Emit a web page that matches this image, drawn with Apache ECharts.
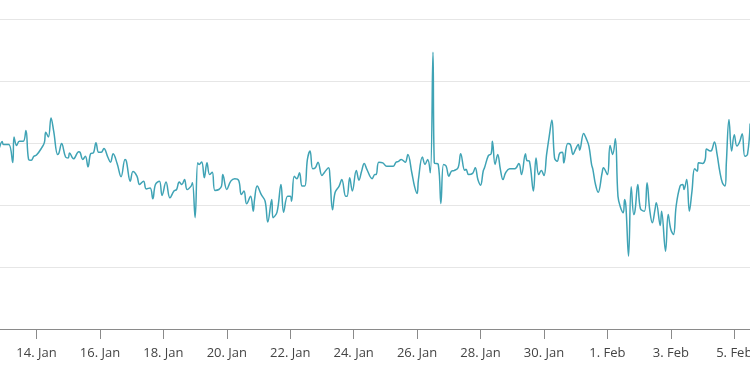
<!DOCTYPE html>
<html>
<head>
<meta charset="utf-8">
<script src="https://cdn.jsdelivr.net/npm/echarts@6/dist/echarts.min.js"></script>
<style>html,body{margin:0;padding:0;background:#fff}#c{width:750px;height:375px}</style>
</head>
<body>
<div id="c"></div>
<script>
// Time of each reading, in hours after 12 Jan 00:00 (UTC)
const startDate = Date.UTC(2023, 0, 12);
const hourOffsets = [
20,22,23,27,30,31,33,35,38,40,42,44,46,48,52,54,55,57,59,61,64,65,67,70,72,73,76,80,81,83,85,87,89,91,93,95,97,99,102,104,106,109,112,115,
116,119,121,124,126,129,131,134,136,138,141,143,146,149,152,154,156,158,160,162,165,166,168,170,171,173,175,177,179,181,183,186,188,189,192,195,198,201,203,205,207,210,
212,213,215,218,221,223,226,227,230,233,235,238,240,241,243,245,247,249,251,253,255,257,259,261,264,266,269,270,272,274,277,279,282,283,285,287,290,292,294,296,298,302,304,
305,307,310,313,318,320,322,324,327,329,332,334,336,337,340,342,344,346,348,349,352,354,356,358,360,362,364,367,369,372,373,375,378,380,382,384,386,387,390,392,393,395,397,399,
401,403,406,410,413,415,418,419,421,424,426,428,430,432,434,436,438,440,442,444,446,447,450,452,454,456,458,459,462,464,466,468,469,471,473,476,477,480,482,484,486,488,490,492,493,
494,496,498,500,501,503,505,508,510,512,514,516,517,520,521,524,526,528,530,532,535,537,538,540,542,544,546,548,549,552,554,555,558,559,561,563,565,567,569,570,572,574,576,578,580,582,584,586,588
];
const values = [
58.5,60.5,59.5,59.5,53.7,61.9,59.2,60.6,60.6,64.0,54.7,54.4,55.7,56.1,58.5,60.2,63.5,61.9,68.1,63.8,56.3,56.8,59.8,55.5,55.2,56.8,54.9,57.2,57.0,54.7,55.7,52.3,56.6,56.8,60.1,57.0,57.0,58.2,55.4,53.8,56.5,53.4,49.1,54.7,
54.1,47.7,50.8,49.3,46.6,47.7,45.2,45.5,42.0,46.6,47.7,43.1,47.4,42.3,44.5,45.0,47.4,46.6,48.2,45.0,46.1,47.2,35.9,53.6,53.1,53.9,48.8,53.6,49.8,50.6,44.7,45.0,46.1,49.8,45.0,47.7,48.5,47.9,43.4,44.5,40.4,42.8,
38.0,41.8,46.1,43.4,41.2,34.5,41.8,35.9,37.7,46.6,37.7,42.8,42.8,41.2,49.3,48.5,50.4,46.1,46.1,54.7,57.4,51.7,52.0,53.8,49.5,50.6,52.0,49.3,38.5,44.1,46.1,48.2,42.8,42.8,48.8,44.5,51.1,48.0,50.9,53.4,51.5,48.5,49.8,
49.8,53.8,53.6,52.5,52.5,53.8,54.1,54.7,53.8,56.3,50.4,46.1,43.7,48.2,55.5,53.1,54.7,50.4,89.3,53.6,53.1,40.5,53.1,52.5,49.3,50.9,51.1,52.0,56.5,51.2,51.5,49.8,50.2,52.0,48.2,46.4,50.9,52.0,56.0,56.5,60.6,53.1,56.3,51.5,
48.2,50.4,51.7,51.7,53.4,49.8,56.5,54.4,54.1,44.5,55.2,49.8,51.1,49.5,56.3,62.2,67.4,55.2,54.1,56.8,57.0,53.6,59.8,59.5,56.3,58.1,59.5,57.7,63.1,61.4,59.0,53.1,51.5,46.6,44.1,50.4,52.0,49.8,59.2,56.3,61.4,42.8,39.1,37.5,41.8,
39.6,23.5,45.9,36.9,38.5,46.6,38.8,38.0,47.2,38.5,34.3,38.5,40.7,33.4,38.0,25.1,36.9,32.1,30.5,39.6,46.1,46.6,45.0,48.2,38.0,44.5,51.7,50.9,53.6,53.4,54.7,58.1,57.4,57.7,60.3,56.3,50.9,47.2,46.1,53.6,67.6,57.4,62.7,59.0,60.3,63.0,55.7,56.3,66.3
];
// Visible time window (hours after startDate) and labelled days
const viewStartHour = 20.38;
const viewEndHour = 587.9;
const tickDays = ['2023-01-14','2023-01-16','2023-01-18','2023-01-20','2023-01-22','2023-01-24','2023-01-26','2023-01-28','2023-01-30','2023-02-01','2023-02-03','2023-02-05'];
const monthNames = ['Jan','Feb','Mar','Apr','May','Jun','Jul','Aug','Sep','Oct','Nov','Dec'];

const H = 3600000;
const seriesData = hourOffsets.map((h, i) => [startDate + h * H, values[i]]);
const tickValues = tickDays.map(d => Date.parse(d + 'T00:00:00Z'));

const chart = echarts.init(document.getElementById('c'), null, {renderer: 'canvas'});
chart.setOption({
  animation: false,
  backgroundColor: '#ffffff',
  grid: {left: 0, right: 0, top: 19, bottom: 46, containLabel: false, outerBoundsMode: 'none'},
  xAxis: {
    type: 'value',
    min: startDate + viewStartHour * H,
    max: startDate + viewEndHour * H,
    splitLine: {show: false},
    axisLine: {show: true, lineStyle: {color: '#8a8a8a', width: 1}},
    axisTick: {show: true, length: 10, customValues: tickValues, lineStyle: {color: '#8a8a8a', width: 1}},
    axisLabel: {
      customValues: tickValues,
      margin: 18,
      color: '#444',
      fontFamily: 'Open Sans',
      fontSize: 13,
      hideOverlap: false,
      formatter: v => { const d = new Date(v); return d.getUTCDate() + '. ' + monthNames[d.getUTCMonth()]; }
    }
  },
  yAxis: {
    type: 'value',
    min: 0, max: 100, interval: 20,
    axisLine: {show: false},
    axisTick: {show: false},
    axisLabel: {show: false},
    splitLine: {show: true, lineStyle: {color: '#e6e6e6', width: 1}}
  },
  series: [{
    type: 'line',
    data: seriesData,
    smooth: 0.4,
    showSymbol: false,
    clip: true,
    lineStyle: {color: '#3fa3b5', width: 1.5}
  }]
});
</script>
</body>
</html>
